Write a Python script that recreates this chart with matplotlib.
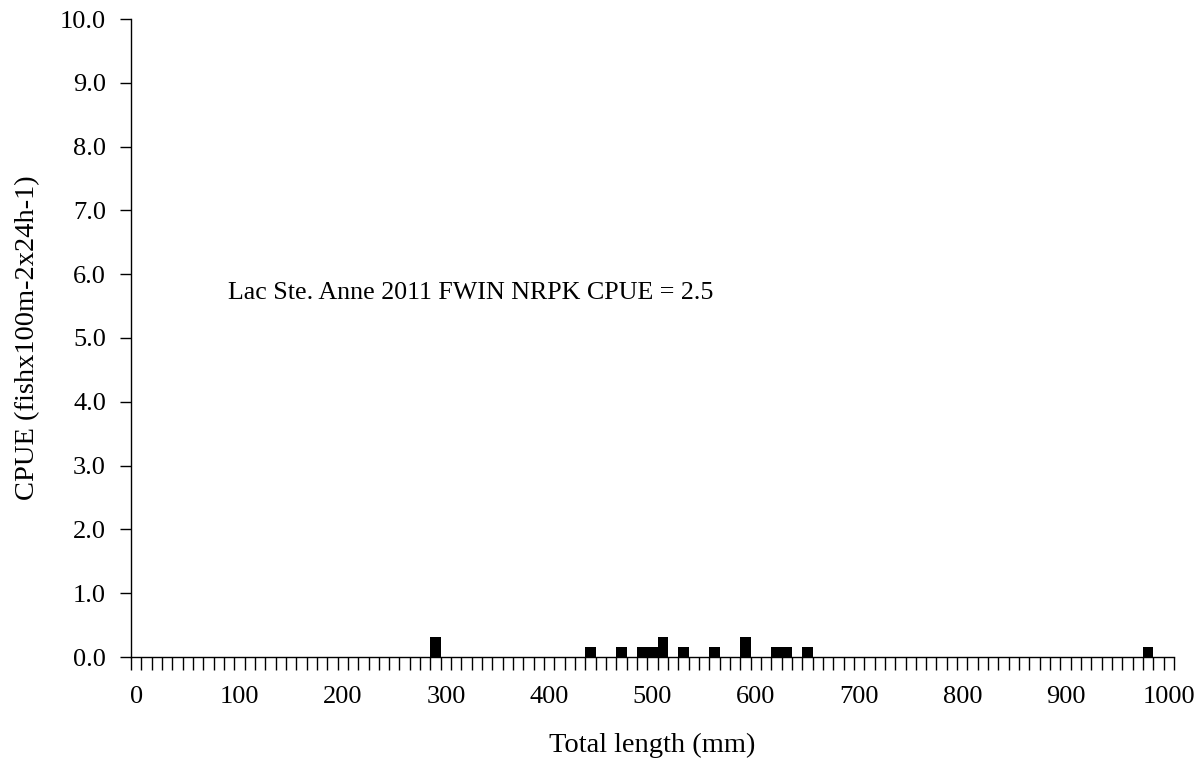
import matplotlib
matplotlib.use("Agg")
import matplotlib.pyplot as plt
import numpy as np

# Data: 10-mm length bins (left edge, mm) and CPUE values
bin_starts = [290, 440, 470, 490, 500, 510, 530, 560, 590, 620, 630, 650, 980]
cpue = [0.32, 0.16, 0.16, 0.16, 0.16, 0.32, 0.16, 0.16, 0.32, 0.16, 0.16, 0.16, 0.16]
x_labels = [str(v) for v in range(0, 1001, 100)]
y_ticks = [0, 1, 2, 3, 4, 5, 6, 7, 8, 9, 10]
annotation = "Lac Ste. Anne 2011 FWIN NRPK CPUE = 2.5"

plt.rcParams['font.family'] = ['Liberation Serif', 'DejaVu Serif']
fs_tick = 19
fs_label = 20.5
fs_ann = 18.7

fig = plt.figure(figsize=(12.03, 7.63), dpi=100)
ax = fig.add_axes([131/1203, 1 - 657/763, (1174 - 131)/1203, (657 - 19)/763])

ax.bar(bin_starts, cpue, width=10, align='edge', color='black', linewidth=0)

ax.set_xlim(0, 1010)
ax.set_ylim(0, 10)

# major ticks at bin boundaries (marks only), labels at category centers
ax.set_xticks(np.arange(0, 1011, 10))
ax.set_xticklabels([])
ax.set_xticks([int(v) + 5 for v in x_labels], minor=True)
ax.set_xticklabels(x_labels, minor=True, fontsize=fs_tick)
ax.tick_params(axis='x', which='major', direction='out', length=9, width=1, color='black')
ax.tick_params(axis='x', which='minor', length=0, pad=21)

ax.set_yticks(y_ticks)
ax.set_yticklabels([f"{v:.1f}" for v in y_ticks], fontsize=fs_tick)
ax.tick_params(axis='y', direction='out', length=8, width=1, pad=10, color='black')

for s in ['top', 'right']:
    ax.spines[s].set_visible(False)
for s in ['left', 'bottom']:
    ax.spines[s].set_linewidth(1)
    ax.spines[s].set_color('black')

ax.set_xlabel("Total length (mm)", fontsize=fs_label, labelpad=18)
ax.set_ylabel("CPUE (fishx100m-2x24h-1)", fontsize=fs_label, labelpad=14)

ax.text(0.093, 0.5705, annotation, transform=ax.transAxes, fontsize=fs_ann,
        va='center', ha='left')

fig.savefig("out.png", dpi=100)
